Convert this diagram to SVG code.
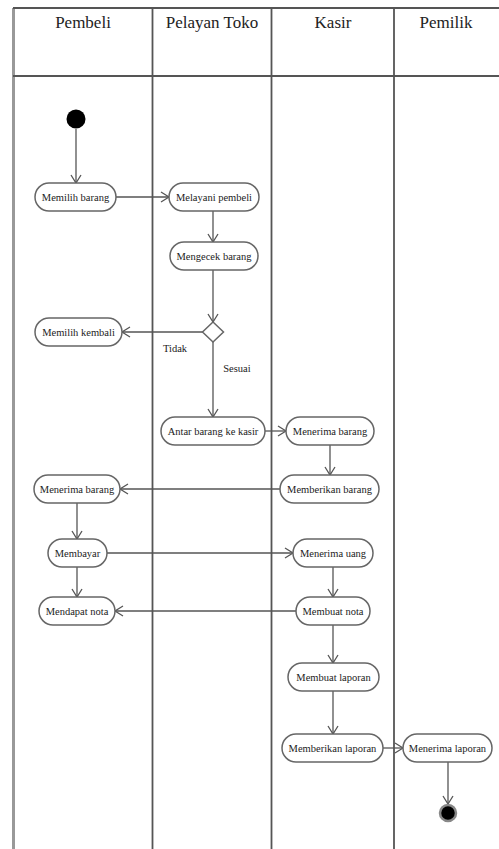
<svg xmlns="http://www.w3.org/2000/svg" width="499" height="849" viewBox="0 0 499 849" font-family="'Liberation Serif', 'DejaVu Serif', serif">
  <style>
    .lane { stroke: #555; stroke-width: 1.8; fill: none; }
    .head { font-family: 'Liberation Serif', 'DejaVu Serif', serif; font-size: 17px; fill: #222; text-anchor: middle; }
    .act rect { fill: #fff; stroke: #666; stroke-width: 1.5; }
    .act text, .lbl { font-family: 'Liberation Serif', 'DejaVu Serif', serif; font-size: 10.5px; fill: #222; text-anchor: middle; }
    .flow line { stroke: #555; stroke-width: 1.3; fill: none; marker-end: url(#arr); }
  </style>
  <defs>
    <marker id="arr" markerUnits="userSpaceOnUse" markerWidth="12" markerHeight="12" refX="9" refY="6" orient="auto">
      <path d="M1,1 L9,6 L1,11" fill="none" stroke="#555" stroke-width="1.3"/>
    </marker>
  </defs>
  <rect width="499" height="849" fill="#fff"/>

  <!-- swimlane frame -->
  <g id="lanes">
    <line x1="13.5" y1="8" x2="13.5" y2="849" stroke="#999" stroke-width="3"/>
    <line class="lane" x1="13" y1="8" x2="499" y2="8"/>
    <line class="lane" x1="13" y1="76" x2="499" y2="76"/>
    <line class="lane" x1="152.5" y1="8" x2="152.5" y2="849"/>
    <line class="lane" x1="271.5" y1="8" x2="271.5" y2="849"/>
    <line class="lane" x1="394" y1="8" x2="394" y2="849"/>
    <text class="head" x="83" y="28">Pembeli</text>
    <text class="head" x="212" y="28">Pelayan Toko</text>
    <text class="head" x="333" y="28">Kasir</text>
    <text class="head" x="446" y="28">Pemilik</text>
  </g>

  <!-- control flow -->
  <g id="connectors" class="flow">
    <line x1="76" y1="129" x2="76" y2="183"/>
    <line x1="116" y1="197" x2="169" y2="197"/>
    <line x1="213" y1="211" x2="213" y2="242"/>
    <line x1="213" y1="270" x2="213" y2="322"/>
    <line x1="203" y1="332" x2="122" y2="332"/>
    <line x1="213" y1="342" x2="213" y2="417"/>
    <line x1="265" y1="431" x2="286" y2="431"/>
    <line x1="330" y1="445" x2="330" y2="475"/>
    <line x1="280" y1="489" x2="120" y2="489"/>
    <line x1="77" y1="503" x2="77" y2="539"/>
    <line x1="107" y1="553" x2="293" y2="553"/>
    <line x1="77" y1="567" x2="77" y2="597"/>
    <line x1="333" y1="567" x2="333" y2="597"/>
    <line x1="296" y1="611" x2="115" y2="611"/>
    <line x1="333" y1="625" x2="333" y2="663"/>
    <line x1="333" y1="691" x2="333" y2="734"/>
    <line x1="383" y1="748" x2="403" y2="748"/>
    <line x1="448" y1="762" x2="448" y2="804"/>
  </g>
  <text class="lbl" x="175" y="352">Tidak</text>
  <text class="lbl" x="237" y="372">Sesuai</text>

  <!-- start / end -->
  <g id="start"><circle cx="76" cy="119" r="9.5" fill="#000"/></g>
  <g id="end"><circle cx="448" cy="813" r="8" fill="#000" stroke="#888" stroke-width="2.5"/></g>

  <!-- decision -->
  <g id="decision"><polygon points="213,322 223.5,332 213,342 202.5,332" fill="#fff" stroke="#666" stroke-width="1.5"/></g>

  <!-- activities -->
  <g id="memilih-barang" class="act"><rect x="35" y="183" width="81" height="28" rx="14"/><text x="75.5" y="200.5">Memilih barang</text></g>
  <g id="melayani-pembeli" class="act"><rect x="169" y="183" width="90" height="28" rx="14"/><text x="214" y="200.5">Melayani pembeli</text></g>
  <g id="mengecek-barang" class="act"><rect x="170" y="242" width="88" height="28" rx="14"/><text x="214" y="259.5">Mengecek barang</text></g>
  <g id="memilih-kembali" class="act"><rect x="35" y="318" width="87" height="28" rx="14"/><text x="78.5" y="335.5">Memilih kembali</text></g>
  <g id="antar-barang" class="act"><rect x="161" y="417" width="104" height="28" rx="14"/><text x="213" y="434.5">Antar barang ke kasir</text></g>
  <g id="kasir-menerima-barang" class="act"><rect x="286" y="417" width="88" height="28" rx="14"/><text x="330" y="434.5">Menerima barang</text></g>
  <g id="memberikan-barang" class="act"><rect x="280" y="475" width="99" height="28" rx="14"/><text x="329.5" y="492.5">Memberikan barang</text></g>
  <g id="pembeli-menerima-barang" class="act"><rect x="34" y="475" width="86" height="28" rx="14"/><text x="77" y="492.5">Menerima barang</text></g>
  <g id="membayar" class="act"><rect x="48" y="539" width="59" height="28" rx="14"/><text x="77.5" y="556.5">Membayar</text></g>
  <g id="menerima-uang" class="act"><rect x="293" y="539" width="80" height="28" rx="14"/><text x="333" y="556.5">Menerima uang</text></g>
  <g id="mendapat-nota" class="act"><rect x="39" y="597" width="76" height="28" rx="14"/><text x="77" y="614.5">Mendapat nota</text></g>
  <g id="membuat-nota" class="act"><rect x="296" y="597" width="74" height="28" rx="14"/><text x="333" y="614.5">Membuat nota</text></g>
  <g id="membuat-laporan" class="act"><rect x="288" y="663" width="91" height="28" rx="14"/><text x="333.5" y="680.5">Membuat laporan</text></g>
  <g id="memberikan-laporan" class="act"><rect x="282" y="734" width="101" height="28" rx="14"/><text x="332.5" y="751.5">Memberikan laporan</text></g>
  <g id="menerima-laporan" class="act"><rect x="403" y="734" width="89" height="28" rx="14"/><text x="447.5" y="751.5">Menerima laporan</text></g>
</svg>
